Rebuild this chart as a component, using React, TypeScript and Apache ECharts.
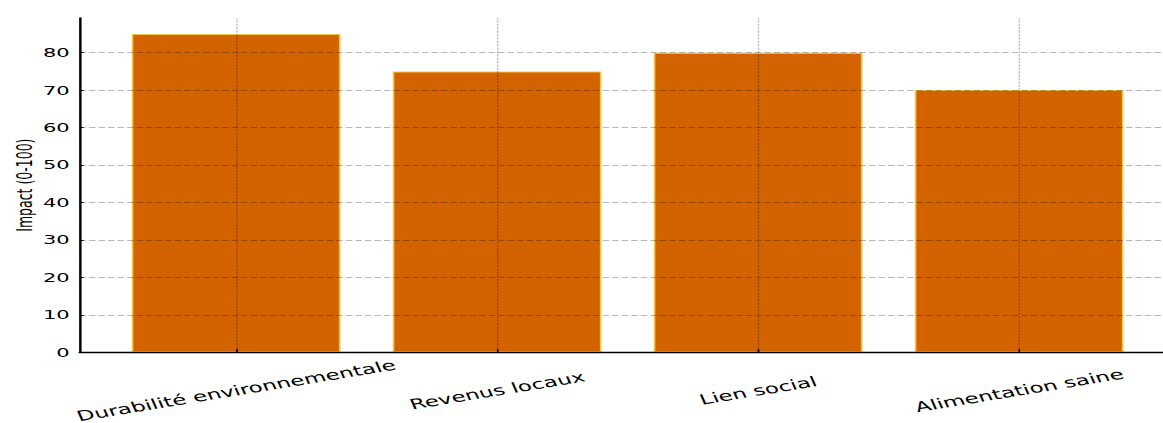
import React, { useEffect, useRef } from "react";
import * as echarts from "echarts";

const categories = [
  "Durabilité environnementale",
  "Revenus locaux",
  "Lien social",
  "Alimentation saine",
];
const impactValues = [85, 75, 80, 70];
const yTickValues = [0, 10, 20, 30, 40, 50, 60, 70, 80];
const yAxisName = "Impact (0-100)";

// The reference image is a horizontally stretched picture; reproduce that.
const STRETCH = 1.64;
const OUT_W = 1163;
const OUT_H = 423;
const INNER_W = 725;

export default function App() {
  const ref = useRef<HTMLDivElement>(null);

  useEffect(() => {
    if (!ref.current) return;
    const chart = echarts.init(ref.current, null, { renderer: "svg" });
    const catIdx = categories.map((_, i) => i);
    const gridColor = "rgba(0,0,0,0.28)";
    const gridLinesY = yTickValues.filter((v) => v > 0).map((v) => ({ yAxis: v }));
    const gridLinesX = catIdx.map((i) => ({
      xAxis: i,
      lineStyle: { type: [2.2, 1.2] as number[], width: 1 / STRETCH + 0.2 },
    }));
    chart.setOption({
      animation: false,
      backgroundColor: "#ffffff",
      textStyle: { fontFamily: "DejaVu Sans" },
      grid: {
        left: 79.5 / STRETCH,
        top: 18,
        width: (4.2 * 261) / STRETCH,
        height: 334.3,
        containLabel: false,
        outerBoundsMode: "none",
      },
      xAxis: {
        type: "value",
        min: -0.6,
        max: 3.6,
        z: 3,
        axisLine: { show: true, onZero: false, lineStyle: { color: "#000", width: 1.3 } },
        axisTick: {
          show: true,
          inside: true,
          length: 3,
          customValues: catIdx,
          lineStyle: { color: "#000", width: 1 },
        },
        axisLabel: {
          customValues: catIdx,
          formatter: (v: number) => categories[Math.round(v)] ?? "",
          rotate: 15,
          align: "center",
          verticalAlign: "middle",
          margin: 38,
          fontSize: 14,
          color: "#000",
          fontFamily: "DejaVu Sans",
        },
        splitLine: { show: false },
      },
      yAxis: {
        type: "value",
        min: 0,
        max: 89.25,
        interval: 10,
        z: 3,
        name: yAxisName,
        nameLocation: "middle",
        nameGap: 27,
        nameMoveOverlap: false,
        nameTextStyle: { fontSize: 12.5, color: "#000", fontFamily: "DejaVu Sans" },
        axisLine: { show: true, onZero: false, lineStyle: { color: "#000", width: 1.5 } },
        axisTick: {
          show: true,
          inside: true,
          length: 2.5,
          customValues: yTickValues,
          lineStyle: { color: "#000", width: 1 },
        },
        axisLabel: {
          customValues: yTickValues,
          margin: 6,
          fontSize: 12.8,
          color: "#000",
          fontFamily: "DejaVu Sans",
        },
        splitLine: { show: false },
      },
      series: [
        {
          type: "bar",
          data: categories.map((_, i) => [i, impactValues[i]]),
          barWidth: (0.8 * 261) / STRETCH,
          z: 2,
          itemStyle: {
            color: "#D26300",
            borderColor: "#F2C94C",
            borderWidth: 1,
          },
          markLine: {
            silent: true,
            symbol: "none",
            animation: false,
            label: { show: false },
            lineStyle: { color: gridColor, width: 0.8, type: [4, 1.8] },
            data: [...gridLinesY, ...gridLinesX],
          },
        },
      ],
    });
    return () => chart.dispose();
  }, []);

  return (
    <div
      style={{
        position: "fixed",
        left: 0,
        top: 0,
        width: OUT_W,
        height: OUT_H,
        overflow: "hidden",
        background: "#fff",
      }}
    >
      <div
        ref={ref}
        style={{
          width: INNER_W,
          height: OUT_H,
          transform: `scaleX(${STRETCH})`,
          transformOrigin: "0 0",
        }}
      />
    </div>
  );
}
